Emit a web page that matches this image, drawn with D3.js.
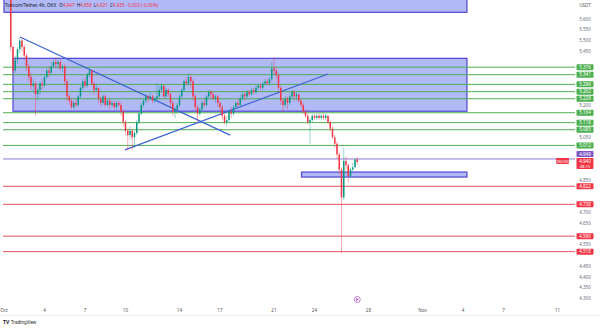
<!DOCTYPE html>
<html>
<head>
<meta charset="utf-8">
<script src="https://cdn.jsdelivr.net/npm/d3@7"></script>
<style>
  body { margin: 0; background: #fff; }
  svg { display: block; font-family: "Noto Sans", Roboto, sans-serif; }
</style>
</head>
<body>
<div id="chart" style="width:600px;height:328px"></div>
<script>
// TON/USDT 4h candles, starting Oct 1 12:00
const firstOpen = 5.74;
const closes = [5.47,5.36,5.41,5.46,5.50,5.47,5.43,5.38,5.33,5.29,5.30,5.25,5.27,5.30,5.29,5.33,5.36,5.35,5.38,5.40,
  5.39,5.40,5.37,5.38,5.31,5.24,5.22,5.19,5.21,5.20,5.24,5.28,5.31,5.29,5.34,5.36,5.30,5.27,5.28,5.23,
  5.21,5.24,5.20,5.22,5.20,5.21,5.19,5.21,5.20,5.17,5.12,5.08,5.06,5.08,5.05,5.07,5.12,5.16,5.20,5.22,
  5.24,5.23,5.24,5.22,5.23,5.24,5.27,5.29,5.24,5.27,5.25,5.21,5.17,5.18,5.20,5.24,5.27,5.31,5.30,5.33,
  5.31,5.24,5.19,5.16,5.18,5.21,5.20,5.24,5.26,5.25,5.23,5.24,5.21,5.19,5.15,5.12,5.13,5.17,5.16,5.19,
  5.21,5.20,5.23,5.25,5.24,5.26,5.25,5.27,5.26,5.28,5.29,5.28,5.30,5.31,5.30,5.32,5.37,5.36,5.34,5.28,
  5.22,5.20,5.23,5.21,5.24,5.26,5.24,5.25,5.22,5.20,5.17,5.15,5.12,5.13,5.15,5.14,5.15,5.14,5.15,5.14,
  5.15,5.12,5.09,5.05,5.02,4.97,4.90,4.77,4.94,4.92,4.87,4.90,4.91,4.947,4.935];
const highs = [5.76,5.48,5.43,5.47,5.515,5.51,5.48,5.44,5.39,5.35,5.32,5.31,5.28,5.31,5.32,5.34,5.37,5.38,5.40,5.41,
  5.42,5.41,5.41,5.39,5.39,5.32,5.25,5.23,5.22,5.23,5.25,5.29,5.32,5.33,5.35,5.37,5.36,5.31,5.30,5.28,
  5.24,5.25,5.25,5.23,5.23,5.22,5.22,5.22,5.22,5.21,5.18,5.13,5.09,5.10,5.09,5.08,5.13,5.17,5.21,5.23,
  5.25,5.25,5.26,5.25,5.24,5.30,5.29,5.30,5.29,5.28,5.28,5.26,5.22,5.19,5.21,5.25,5.28,5.32,5.33,5.35,
  5.34,5.32,5.25,5.20,5.19,5.22,5.23,5.25,5.27,5.27,5.26,5.25,5.25,5.22,5.20,5.16,5.15,5.18,5.19,5.20,
  5.22,5.23,5.25,5.26,5.26,5.27,5.27,5.28,5.28,5.29,5.30,5.30,5.31,5.32,5.32,5.33,5.40,5.42,5.38,5.35,
  5.29,5.23,5.24,5.24,5.25,5.27,5.27,5.26,5.25,5.23,5.21,5.18,5.16,5.14,5.16,5.16,5.16,5.16,5.16,5.16,
  5.16,5.15,5.13,5.10,5.06,5.03,4.98,4.91,5.00,4.96,4.93,4.91,4.93,4.95,4.958];
const lows = [5.45,5.34,5.35,5.39,5.44,5.45,5.41,5.36,5.31,5.27,5.26,5.15,5.22,5.25,5.27,5.28,5.32,5.33,5.34,5.37,
  5.37,5.37,5.36,5.35,5.29,5.22,5.20,5.18,5.18,5.19,5.19,5.23,5.27,5.28,5.28,5.33,5.29,5.25,5.26,5.21,
  5.19,5.20,5.19,5.19,5.18,5.19,5.18,5.18,5.19,5.15,5.10,5.06,4.99,5.04,4.99,5.00,5.06,5.11,5.15,5.19,
  5.21,5.21,5.22,5.21,5.21,5.22,5.23,5.26,5.23,5.23,5.24,5.19,5.15,5.14,5.16,5.19,5.23,5.26,5.29,5.29,
  5.28,5.22,5.17,5.12,5.15,5.17,5.19,5.19,5.23,5.23,5.22,5.21,5.19,5.17,5.13,5.11,5.10,5.12,5.14,5.15,
  5.18,5.19,5.19,5.22,5.22,5.23,5.24,5.24,5.25,5.25,5.27,5.27,5.27,5.29,5.29,5.29,5.31,5.34,5.32,5.26,
  5.20,5.17,5.19,5.18,5.20,5.23,5.22,5.22,5.21,5.19,5.16,5.14,5.11,5.02,5.12,5.13,5.13,5.13,5.13,5.13,
  5.13,5.11,5.08,5.04,5.00,4.95,4.88,4.51,4.76,4.90,4.84,4.86,4.89,4.91,4.921];

const greenLevels = [5.376, 5.341, 5.296, 5.262, 5.229, 5.164, 5.118, 5.085, 5.012];
const redLevels = [4.822, 4.738, 4.590, 4.518];
const purpleLevel = 4.949;
const lastPrice = 4.940;
const priceTicks = d3.range(4.30, 5.601, 0.05);
const dateTicks = [
  [new Date(2024, 9, 1), "Oct"], [new Date(2024, 9, 4), "4"], [new Date(2024, 9, 7), "7"],
  [new Date(2024, 9, 10), "10"], [new Date(2024, 9, 14), "14"], [new Date(2024, 9, 17), "17"],
  [new Date(2024, 9, 21), "21"], [new Date(2024, 9, 24), "24"], [new Date(2024, 9, 28), "28"],
  [new Date(2024, 10, 1), "Nov"], [new Date(2024, 10, 4), "4"], [new Date(2024, 10, 7), "7"],
  [new Date(2024, 10, 11), "11"]
];
// rectangles: [start, end, low, high]
const boxes = [
  [new Date(2024, 9, 1, 0), new Date(2024, 10, 4, 7), 5.631, 5.90],
  [new Date(2024, 9, 1, 16), new Date(2024, 10, 4, 7), 5.171, 5.417],
  [new Date(2024, 9, 23, 1), new Date(2024, 10, 4, 7), 4.865, 4.888]
];
const trendLines = [
  [[new Date(2024, 9, 2, 4, 30), 5.516], [new Date(2024, 9, 17, 18), 5.060]],
  [[new Date(2024, 9, 9, 23), 4.991], [new Date(2024, 9, 25, 0), 5.344]]
];
const legendValues = [["O", "4.947"], ["H", "4.958"], ["L", "4.921"], ["C", "4.935"]];

const start = new Date(2024, 9, 1, 12);
const candles = closes.map((c, i) => ({
  t: new Date(start.getTime() + i * 4 * 3600 * 1000),
  o: i === 0 ? firstOpen : closes[i - 1],
  h: highs[i], l: lows[i], c: c
}));

const W = 600, H = 328, plotRight = 575, plotBottom = 305;
const green = "#089981", red = "#f23645", lineGreen = "#4caf50", purple = "#7e57c2";

const svg = d3.select("#chart").append("svg").attr("width", W).attr("height", H);

const x = d3.scaleTime()
  .domain([new Date(2024, 9, 1), new Date(2024, 10, 11)])
  .range([4, 557.5]);
const y = d3.scaleLinear().domain([4.3, 5.6]).range([298.5, 19]);

svg.append("defs").append("clipPath").attr("id", "plot")
  .append("rect").attr("width", plotRight).attr("height", plotBottom);
const plot = svg.append("g").attr("clip-path", "url(#plot)");

// rectangles
plot.selectAll("rect.box").data(boxes).join("rect")
  .attr("class", "box")
  .attr("x", d => x(d[0])).attr("width", d => x(d[1]) - x(d[0]))
  .attr("y", d => y(d[3])).attr("height", d => y(d[2]) - y(d[3]))
  .attr("fill", "rgba(82,100,238,0.45)")
  .attr("stroke", "#5a4fd6").attr("stroke-width", 1.3);

// horizontal levels
const xLineStart = x(new Date(2024, 9, 1)) - 1;
plot.selectAll("line.g").data(greenLevels).join("line")
  .attr("x1", xLineStart).attr("x2", plotRight)
  .attr("y1", d => y(d)).attr("y2", d => y(d))
  .attr("stroke", lineGreen).attr("stroke-width", 1);
plot.selectAll("line.r").data(redLevels).join("line")
  .attr("x1", xLineStart).attr("x2", plotRight)
  .attr("y1", d => y(d)).attr("y2", d => y(d))
  .attr("stroke", "#e8505e").attr("stroke-width", 1);
plot.append("line")
  .attr("x1", xLineStart).attr("x2", plotRight)
  .attr("y1", y(purpleLevel)).attr("y2", y(purpleLevel))
  .attr("stroke", "#8f76d6").attr("stroke-width", 1);

// trend lines
plot.selectAll("line.trend").data(trendLines).join("line")
  .attr("x1", d => x(d[0][0])).attr("y1", d => y(d[0][1]))
  .attr("x2", d => x(d[1][0])).attr("y2", d => y(d[1][1]))
  .attr("stroke", "#3d62d4").attr("stroke-width", 1.2);

// candles
const cg = plot.append("g");
cg.selectAll("line.wick").data(candles).join("line")
  .attr("x1", d => x(d.t)).attr("x2", d => x(d.t))
  .attr("y1", d => y(d.h)).attr("y2", d => y(d.l))
  .attr("stroke", d => d.c >= d.o ? green : red)
  .attr("stroke-opacity", 0.6).attr("stroke-width", 0.7);
cg.selectAll("rect.body").data(candles).join("rect")
  .attr("x", d => x(d.t) - 0.75).attr("width", 1.5)
  .attr("y", d => y(Math.max(d.o, d.c)))
  .attr("height", d => Math.max(0.6, Math.abs(y(d.o) - y(d.c))))
  .attr("fill", d => d.c >= d.o ? green : red);

// price axis: labels first, ticks hidden where a label sits
const axisX = 585;
const labels = [];
greenLevels.forEach(v => labels.push({ text: v.toFixed(3), fill: lineGreen, cy: y(v), h: 6 }));
redLevels.forEach(v => labels.push({ text: v.toFixed(3), fill: red, cy: y(v), h: 6 }));
labels.push({ text: purpleLevel.toFixed(3), fill: purple, cy: y(purpleLevel) - 5, h: 6 });
labels.push({ text: lastPrice.toFixed(3), fill: red, cy: y(lastPrice), h: 11, sub: "08:15" });

const freeTicks = priceTicks.filter(t => !labels.some(l => y(t) > l.cy - 6 && y(t) < l.cy - 3 + l.h + 3));
svg.append("text").attr("x", axisX).attr("y", 6.5).attr("text-anchor", "middle")
  .attr("font-size", 4.6).attr("fill", "#555").text("USDT");
svg.selectAll("text.tick").data(freeTicks).join("text")
  .attr("x", axisX).attr("y", d => y(d) + 1.7).attr("text-anchor", "middle")
  .attr("font-size", 4.6).attr("fill", "#6a6d78")
  .text(d => d.toFixed(3));

const lab = svg.selectAll("g.lab").data(labels).join("g");
lab.append("rect").attr("x", axisX - 8.5).attr("y", d => d.cy - 3).attr("width", 17).attr("height", d => d.h)
  .attr("rx", 0.8).attr("fill", d => d.fill);
lab.append("text").attr("x", axisX).attr("y", d => d.cy + 1.7).attr("text-anchor", "middle")
  .attr("font-size", 4.6).attr("fill", "#fff").text(d => d.text);
lab.filter(d => d.sub).append("text").attr("x", axisX).attr("y", d => d.cy + 6.8).attr("text-anchor", "middle")
  .attr("font-size", 4.2).attr("fill", "#fff").text(d => d.sub);

svg.append("rect").attr("x", 556).attr("y", y(lastPrice) - 3).attr("width", 13).attr("height", 6)
  .attr("rx", 0.8).attr("fill", red);
svg.append("text").attr("x", 562.5).attr("y", y(lastPrice) + 1.6).attr("text-anchor", "middle")
  .attr("font-size", 3.8).attr("fill", "#fff").text("TON/USDT");

// time axis
svg.append("line").attr("x1", 0).attr("x2", W).attr("y1", 315.5).attr("y2", 315.5)
  .attr("stroke", "#e0e3eb").attr("stroke-width", 0.6);
svg.selectAll("text.date").data(dateTicks).join("text")
  .attr("x", d => x(d[0])).attr("y", 312).attr("text-anchor", "middle")
  .attr("font-size", 4.6).attr("fill", "#555").text(d => d[1]);

// events marker
const ev = svg.append("g").attr("transform", `translate(${x(new Date(2024, 9, 27, 4))},299.5)`);
ev.append("circle").attr("r", 3).attr("fill", "#fff").attr("stroke", "#a33fc0").attr("stroke-width", 0.7);
ev.append("path").attr("d", "M-1,-1.5L1.4,0L-1,1.5Z").attr("fill", "#a33fc0");

// legend
const lg = svg.append("text").attr("x", 5).attr("y", 6.5).attr("font-size", 4.6).attr("fill", "#131722");
lg.append("tspan").text("Toncoin/Tether, 4h, OKX  ");
legendValues.forEach(d => {
  lg.append("tspan").attr("dx", 2).text(d[0]);
  lg.append("tspan").attr("fill", red).text(d[1]);
});
lg.append("tspan").attr("dx", 2).attr("fill", red).text("-0.003 (-0.06%)");

// logo
svg.append("text").attr("x", 3).attr("y", 323.5).attr("font-size", 5).attr("font-weight", "bold")
  .attr("fill", "#131722").text("TV");
svg.append("text").attr("x", 11).attr("y", 323.5).attr("font-size", 4.4)
  .attr("fill", "#131722").text("TradingView");
</script>
</body>
</html>
